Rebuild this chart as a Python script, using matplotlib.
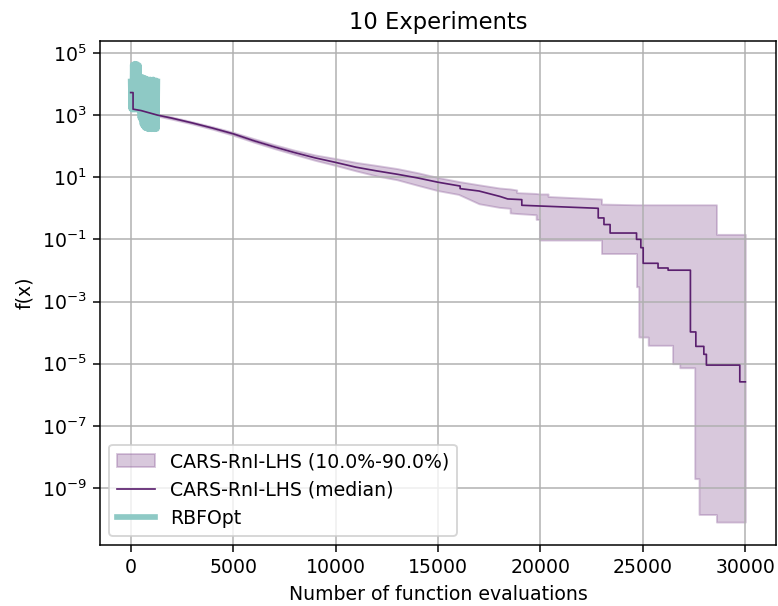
import numpy as np
import matplotlib
matplotlib.use("Agg")
import matplotlib.pyplot as plt

# band of the 10 runs (10% / 90% quantiles); repeated x = vertical step
band_x = [0, 115, 115, 500, 1300, 2000, 3000, 4000, 5000, 6000, 7000, 8000,
          9000, 10000, 11000, 12000, 13000, 14000, 15000, 16000, 17000, 18000,
          18520, 18520, 18840, 18840, 19790, 19790, 19950, 19950, 20370, 20370,
          22980, 22980, 24690, 24690, 24800, 24800, 25260, 25260, 26450, 26450,
          26800, 26800, 27530, 27530, 27740, 27740, 28590, 28590, 30000]
band_hi = [6000, 6000, 1700, 1500, 1080, 870, 610, 420, 280, 175, 112, 74,
           52, 40, 30, 24, 19, 14, 9.8, 7.3, 5.7, 4.5,
           4.2, 4.2, 3.9, 3.2, 3.0, 3.0, 2.9, 2.9, 2.9, 2.4,
           2.0, 1.37, 1.3, 1.3, 1.3, 1.3, 1.3, 1.3, 1.3, 1.3,
           1.3, 1.3, 1.3, 1.3, 1.3, 1.3, 1.3, 0.145, 0.145]
band_lo = [4800, 4800, 1450, 1300, 930, 740, 520, 350, 225, 135, 84, 54,
           35, 24, 16, 11, 8.3, 5.5, 3.7, 2.8, 1.4, 1.07,
           1.0, 0.71, 0.68, 0.68, 0.62, 0.44, 0.44, 0.095, 0.095, 0.095,
           0.095, 0.035, 0.035, 0.003, 0.003, 7.2e-5, 7.2e-5, 3.9e-5, 3.9e-5, 1e-5,
           1e-5, 7.4e-6, 7.4e-6, 2e-9, 2e-9, 1.4e-10, 1.4e-10, 8e-11, 8e-11]

# median of the 10 runs
med_x = [0, 115, 115, 500, 1300, 2000, 3000, 4000, 5000, 6000, 7000, 8000,
         9000, 10000, 11000, 12000, 13000, 14000, 15000, 16080, 16080, 17000,
         18030, 18400, 19090, 19090, 22820, 22820, 23100, 23100, 23400, 23400,
         24690, 24690, 24900, 24900, 25015, 25015, 25740, 25740, 26230, 26230,
         27320, 27320, 27585, 27585, 27975, 27975, 28100, 28100, 29730, 29730,
         30000]
med_y = [5300, 5300, 1550, 1400, 1000, 800, 560, 380, 250, 150, 95, 62,
         42, 30, 21, 16, 12.5, 9.5, 6.9, 5.2, 4.3, 3.6,
         2.4, 2.0, 1.9, 1.25, 1.0, 0.49, 0.49, 0.30, 0.30, 0.16,
         0.16, 0.1, 0.1, 0.054, 0.054, 0.017, 0.017, 0.012, 0.012, 0.0102,
         0.0102, 1.05e-4, 1.05e-4, 3.6e-5, 3.6e-5, 2e-5, 2e-5, 9e-6, 9e-6, 2.6e-6,
         2.6e-6]

# RBFOpt evaluations
rbf_x = np.arange(0, 1325, 25)
rbf_y = [12000, 1600, 11000, 1500, 42000, 1800, 38000, 1500, 45000, 2200,
         30000, 1500, 44000, 1700, 35000, 1500, 40000, 2000,
         17000, 800, 16000, 700, 17000, 500, 15000, 450, 16000, 400,
         14000, 380, 15000, 420, 13000, 360, 14000, 350, 12000, 380,
         14000, 370, 13000, 350, 12000, 400, 14000, 360, 13000, 350,
         12000, 380, 13000, 360, 12000]

dpi = 136
fig = plt.figure(figsize=(778 / dpi, 606 / dpi), dpi=dpi)
ax = fig.add_axes([0.1285, 0.1007, 0.869, 0.832])

ax.fill_between(band_x, band_lo, band_hi, color="#7e4a8e", alpha=0.3,
                label="CARS-RnI-LHS (10.0%-90.0%)")
ax.plot(med_x, med_y, color="#5a1f6e", lw=0.9, zorder=4,
        label="CARS-RnI-LHS (median)")
ax.plot(rbf_x, rbf_y, color="#8ec9c5", lw=3, label="RBFOpt")

ax.set_yscale("log")
ax.set_title("10 Experiments")
ax.set_xlabel("Number of function evaluations")
ax.set_ylabel("f(x)")
ax.grid(True)
ax.legend(loc="lower left")

fig.savefig("out.png", dpi=dpi)
